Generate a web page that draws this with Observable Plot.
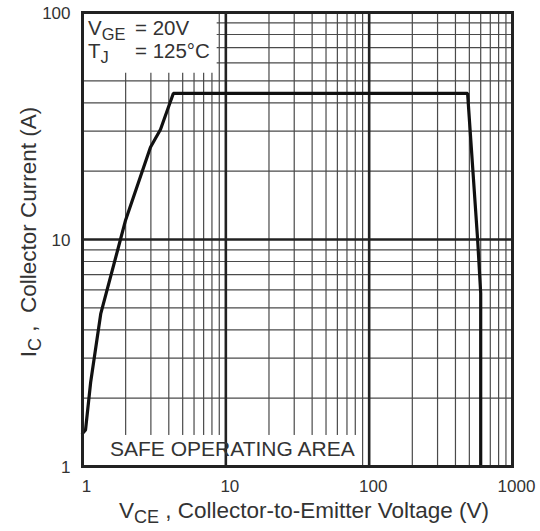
<!DOCTYPE html>
<html><head><meta charset="utf-8">
<script src="https://cdn.jsdelivr.net/npm/d3@7"></script>
<script src="https://cdn.jsdelivr.net/npm/@observablehq/plot@0.6"></script>
<style>
body{margin:0;background:#fff;}
#chart svg{display:block;font-family:"Liberation Sans",Arial,sans-serif;}
</style>
</head><body><div id="chart"></div>
<script>
// Safe operating area boundary (VCE in V, IC in A)
const vce = [1, 1.05, 1.14, 1.34, 1.84, 2.0, 2.98, 3.5, 4.3, 486, 571, 600, 600];
const ic  = [1.4, 1.45, 2.35, 4.7, 10, 12.2, 25.5, 30.5, 44, 44, 10, 5.8, 1];

const xMajor = [1, 10, 100, 1000];
const yMajor = [1, 10, 100];
const xMinor = [2,3,4,5,6,7,8,9, 20,30,40,50,60,70,80,90, 200,300,400,500,600,700,800,900];
const yMinor = [2,3,4,5,6,7,8,9, 20,30,40,50,60,70,80,90];

const xTickLabels = ["1", "10", "100", "1000"];
const yTickLabels = ["1", "10", "100"];

const curve = vce.map((v, i) => ({v, i: ic[i]}));

// annotation boxes (data units)
const legendBox = [{x1: 1, x2: 8.7, y1: 54, y2: 100}];
const soaBox = [{x1: 1.15, x2: 82, y1: 1, y2: 1.37}];

const ink = "#222";
const grid = "#4a4a4a";
const textCol = "#333";

const svg = Plot.plot({
  width: 540,
  height: 531,
  marginLeft: 82,
  marginRight: 28,
  marginTop: 12,
  marginBottom: 65,
  style: {background: "#fff", fontFamily: "'Liberation Sans', Arial, sans-serif"},
  x: {type: "log", domain: [1, 1000]},
  y: {type: "log", domain: [1, 100]},
  marks: [
    Plot.ruleX(xMinor, {stroke: grid, strokeWidth: 1.2}),
    Plot.ruleY(yMinor, {stroke: grid, strokeWidth: 1.2}),
    Plot.rect(legendBox, {x1: "x1", x2: "x2", y1: "y1", y2: "y2", fill: "#fff"}),
    Plot.rect(soaBox, {x1: "x1", x2: "x2", y1: "y1", y2: "y2", fill: "#fff"}),
    Plot.ruleX(xMajor, {stroke: ink, strokeWidth: 2.6}),
    Plot.ruleY(yMajor, {stroke: ink, strokeWidth: 2.6}),
    Plot.line(curve, {x: "v", y: "i", stroke: "#111", strokeWidth: 3.2, strokeLinejoin: "miter"}),
    Plot.frame({stroke: ink, strokeWidth: 3}),
    Plot.axisX({ticks: xMajor, tickSize: 0, tickPadding: 13, dx: 4, fontSize: 17, fill: textCol,
      tickFormat: (d) => xTickLabels[xMajor.indexOf(d)], label: null}),
    Plot.axisY({ticks: yMajor, tickSize: 0, tickPadding: 12, dy: 1, fontSize: 17, fill: textCol,
      tickFormat: (d) => yTickLabels[yMajor.indexOf(d)], label: null})
  ]
});
document.getElementById("chart").appendChild(svg);

const X = (v) => svg.scale("x").apply(v);
const Y = (v) => svg.scale("y").apply(v);
const s = d3.select(svg);

function subText(x, y, parts, opts = {}) {
  const size = opts.size || 21;
  const t = s.append("text")
    .attr("x", x).attr("y", y)
    .attr("fill", textCol)
    .attr("font-size", size)
    .attr("text-anchor", opts.anchor || "start");
  if (opts.rotate) t.attr("transform", `rotate(-90 ${x} ${y})`);
  parts.forEach(p => {
    const ts = t.append("tspan").text(p.t);
    if (p.sub) ts.attr("font-size", size * 0.8).attr("dy", 5);
    else if (p.back) ts.attr("dy", -5);
  });
  return t;
}

// legend
subText(X(1) + 6, Y(100) + 23, [{t: "V"}, {t: "GE", sub: true}], {size: 20.5});
subText(X(1) + 6, Y(100) + 46, [{t: "T"}, {t: "J", sub: true}], {size: 20.5});
subText(X(1) + 53, Y(100) + 23, [{t: "= 20V"}], {size: 20.5});
subText(X(1) + 53, Y(100) + 46, [{t: "= 125°C"}], {size: 20.5});

// SOA label
subText(X(1) + 28, Y(1) - 10, [{t: "SAFE OPERATING AREA"}], {size: 21});

// axis labels
subText(304, 518, [{t: "V"}, {t: "CE", sub: true}, {t: " , Collector-to-Emitter Voltage (V)", back: true}], {size: 22.5, anchor: "middle"});
subText(36, 232, [{t: "I"}, {t: "C", sub: true}, {t: " ,  Collector Current (A)", back: true}], {size: 22.5, anchor: "middle", rotate: true});
</script>
</body></html>
